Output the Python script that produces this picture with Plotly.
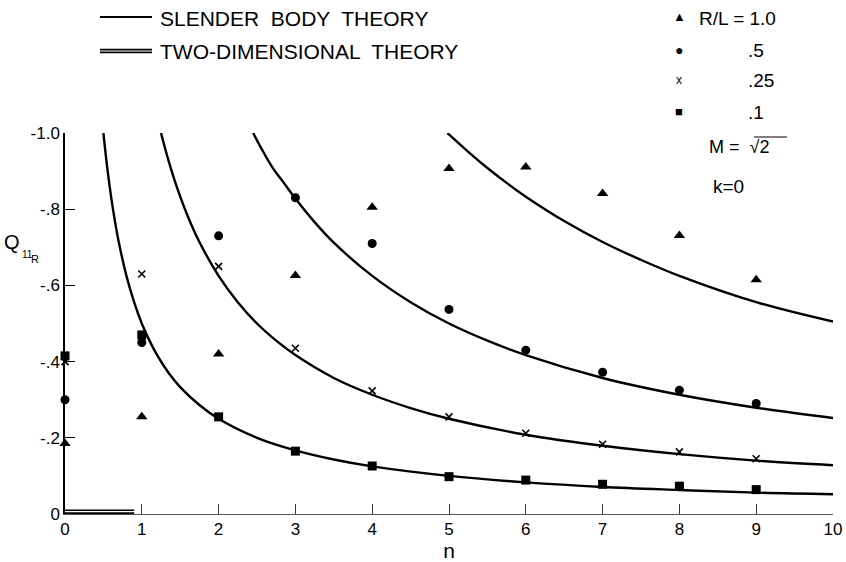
import plotly.graph_objects as go

# ---- data ----
n_pts = [0, 1, 2, 3, 4, 5, 6, 7, 8, 9]
q_rl_1 = [-0.185, -0.255, -0.42, -0.626, -0.805, -0.907, -0.911, -0.841, -0.731, -0.615]
q_rl_05 = [-0.30, -0.45, -0.73, -0.83, -0.71, -0.537, -0.43, -0.372, -0.325, -0.29]
q_rl_025 = [-0.40, -0.63, -0.65, -0.435, -0.323, -0.255, -0.212, -0.183, -0.163, -0.145]
q_rl_01 = [-0.415, -0.47, -0.255, -0.165, -0.126, -0.098, -0.089, -0.078, -0.073, -0.064]

# slender body theory curves
sb01_n = [0.5, 0.55, 0.6, 0.65, 0.7, 0.8, 0.9, 1.0, 1.1, 1.2, 1.35, 1.5, 1.75, 2, 2.5, 3, 3.5, 4,
          5, 6, 7, 8, 9, 10]
sb01_q = [-1.0, -0.909, -0.833, -0.769, -0.714, -0.625, -0.556, -0.5, -0.455, -0.417, -0.370,
          -0.333, -0.286, -0.25, -0.2, -0.167, -0.143, -0.125, -0.1, -0.083, -0.071, -0.063,
          -0.056, -0.052]
sb025_n = [1.25, 1.35, 1.45, 1.6, 1.75, 2, 2.25, 2.5, 2.75, 3, 3.5, 4, 4.5, 5, 6, 7, 8, 9, 10]
sb025_q = [-1.0, -0.926, -0.862, -0.781, -0.714, -0.625, -0.556, -0.5, -0.455, -0.417, -0.357,
           -0.313, -0.278, -0.25, -0.208, -0.179, -0.157, -0.14, -0.128]
sb05_n = [2.45, 2.55, 2.7, 2.85, 3, 3.25, 3.5, 4, 4.5, 5, 5.5, 6, 7, 8, 9, 10]
sb05_q = [-1.0, -0.962, -0.91, -0.869, -0.828, -0.766, -0.712, -0.625, -0.556, -0.5, -0.455,
          -0.417, -0.357, -0.313, -0.279, -0.252]
sb1_n = [4.98, 5.1, 5.3, 5.5, 5.75, 6, 6.5, 7, 7.5, 8, 9, 10]
sb1_q = [-1.0, -0.978, -0.942, -0.908, -0.869, -0.833, -0.769, -0.714, -0.667, -0.625, -0.556, -0.505]

# two-dimensional theory (double line just above the axis)
twod_n = [0, 0.9]
twod_q = [-0.006, -0.006]

x_ticks = [0, 1, 2, 3, 4, 5, 6, 7, 8, 9, 10]
x_ticktext = ["0", "1", "2", "3", "4", "5", "6", "7", "8", "9", "10"]
y_ticks = [0, -0.2, -0.4, -0.6, -0.8, -1.0]
y_ticktext = ["0", "-.2", "-.4", "-.6", "-.8", "-1.0"]

FONT = "Liberation Sans"
W, H = 846, 562
L, R, T, B = 65, 13, 133, 48

fig = go.Figure()

line_style = dict(color="black", width=2.4, shape="spline", smoothing=1.0)
for xs, ys in [(sb01_n, sb01_q), (sb025_n, sb025_q), (sb05_n, sb05_q), (sb1_n, sb1_q)]:
    fig.add_trace(go.Scatter(x=xs, y=ys, mode="lines", line=line_style,
                             hoverinfo="skip", showlegend=False, cliponaxis=False))

# two-dimensional theory: double line
fig.add_trace(go.Scatter(x=twod_n, y=twod_q, mode="lines",
                         line=dict(color="black", width=4.5), showlegend=False, cliponaxis=False))
fig.add_trace(go.Scatter(x=twod_n, y=twod_q, mode="lines",
                         line=dict(color="white", width=1.2), showlegend=False, cliponaxis=False))

marker_sets = [
    (q_rl_1, dict(symbol="triangle-up", size=10, color="black")),
    (q_rl_05, dict(symbol="circle", size=9, color="black")),
    (q_rl_025, dict(symbol="x-thin", size=7, color="black", line=dict(color="black", width=1.6))),
    (q_rl_01, dict(symbol="square", size=9, color="black")),
]
for ys, mk in marker_sets:
    fig.add_trace(go.Scatter(x=n_pts, y=ys, mode="markers", marker=mk,
                             showlegend=False, cliponaxis=False))

pw = W - L - R
ph = H - T - B


def px(x):
    return (x - L) / pw


def py(y):
    return (H - B - y) / ph


ann = []
shapes = []


def text(x, y, s, size, anchor="left"):
    ann.append(dict(x=px(x), y=py(y), xref="paper", yref="paper", text=s, showarrow=False,
                    xanchor=anchor, yanchor="middle", font=dict(family=FONT, size=size, color="black")))


# top-left legend
shapes.append(dict(type="line", xref="paper", yref="paper", x0=px(100), x1=px(152), y0=py(17), y1=py(17),
                   line=dict(color="black", width=2)))
text(158, 18, "SLENDER  BODY  THEORY", 21)
shapes.append(dict(type="line", xref="paper", yref="paper", x0=px(100), x1=px(152), y0=py(51), y1=py(51),
                   line=dict(color="black", width=4.5)))
shapes.append(dict(type="line", xref="paper", yref="paper", x0=px(100), x1=px(152), y0=py(51), y1=py(51),
                   line=dict(color="white", width=1.2)))
text(158, 52, "TWO-DIMENSIONAL  THEORY", 21)

# right legend
text(679, 17, "▲", 13, "center")
text(697, 18, "R/L = 1.0", 19)
text(679, 50, "●", 14, "center")
text(746, 50, ".5", 19)
text(679, 80, "x", 12, "center")
text(746, 81, ".25", 19)
text(679, 111, "■", 13, "center")
text(746, 112, ".1", 19)
text(707, 147, "M =  √2", 18)
shapes.append(dict(type="line", xref="paper", yref="paper", x0=px(754), x1=px(787), y0=py(137), y1=py(137),
                   line=dict(color="black", width=1)))
text(711, 186, "k=0", 19)

# y-axis title Q_11_R
text(12, 242, "Q", 20, "center")
text(27, 254, "11", 10, "center")
text(35, 259, "R", 11, "center")

fig.update_layout(
    width=W, height=H,
    margin=dict(l=L, r=R, t=T, b=B, autoexpand=False),
    paper_bgcolor="white", plot_bgcolor="white",
    annotations=ann, shapes=shapes,
    xaxis=dict(range=[0, 10], tickvals=x_ticks, ticktext=x_ticktext, ticks="inside", ticklen=10,
               tickwidth=1, tickcolor="#333", showline=True, linecolor="#555", linewidth=1,
               showgrid=False, zeroline=False, automargin=False,
               tickfont=dict(family=FONT, size=17, color="black"),
               title=dict(text="n", font=dict(family=FONT, size=21, color="black"), standoff=2)),
    yaxis=dict(range=[0, -1.0], tickvals=y_ticks, ticktext=y_ticktext, ticks="inside", ticklen=10,
               tickwidth=1.2, tickcolor="black", showline=True, linecolor="black", linewidth=1.5,
               showgrid=False, zeroline=False, automargin=False,
               tickfont=dict(family=FONT, size=17, color="black")),
    showlegend=False,
)

fig.write_html("out.html", config={"displayModeBar": False},
               post_script="document.body.style.margin='0';document.body.style.overflow='hidden';")
